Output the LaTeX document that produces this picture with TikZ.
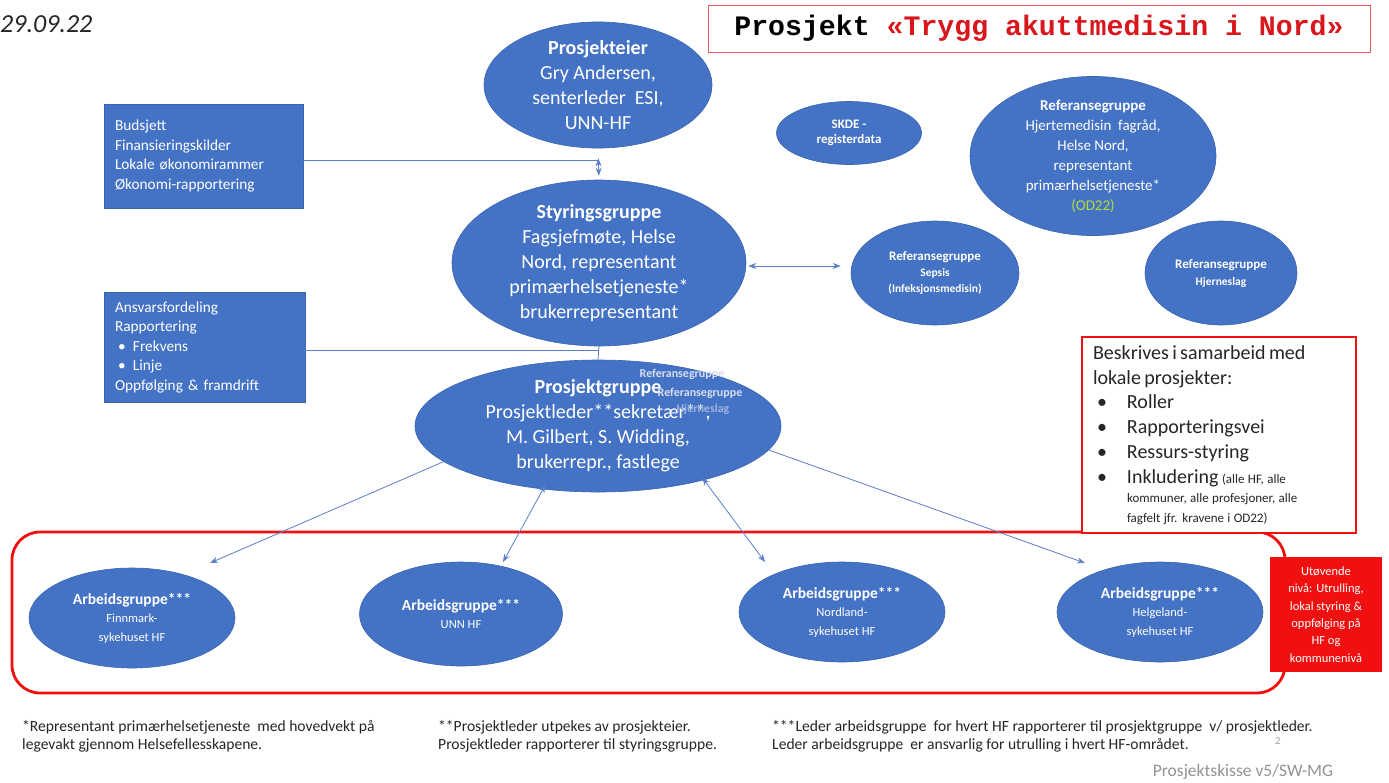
\documentclass[tikz,border=0pt]{standalone}
\usepackage{fontspec}
\setmainfont{Carlito}
\newfontfamily\monofont{Liberation Mono}
\usetikzlibrary{shapes.geometric,arrows.meta}
\definecolor{obl}{HTML}{4472C4}
\definecolor{obd}{HTML}{3A64B0}
\definecolor{lnk}{HTML}{5A7FC8}
\definecolor{odg}{HTML}{B4DC3C}
\definecolor{txg}{HTML}{262626}
\definecolor{ttlred}{HTML}{D8161C}
\definecolor{ovl}{HTML}{D6DEF2}
\definecolor{ovl2}{HTML}{9FB3E0}
\definecolor{frred}{HTML}{F01010}
\newcommand{\bul}{\hspace*{4pt}\makebox[30pt][l]{•}}
\newcommand{\abul}{\hspace*{3pt}\makebox[15pt][l]{•}}
\begin{document}
\begin{tikzpicture}[x=1pt,y=-1pt,
  blob/.style={ellipse,fill=obl,draw=obd,line width=0.6pt,inner sep=0pt,text=white,align=center},
  infobox/.style={rectangle,fill=obl,draw=obd,line width=0.8pt,text=white,align=left,inner xsep=11pt,inner ysep=0pt},
  link/.style={draw=lnk,line width=0.8pt},
  tipend/.style={-{Stealth[length=8pt,width=6pt]}},
  tipboth/.style={{Stealth[length=8pt,width=6pt]}-{Stealth[length=8pt,width=6pt]}},
  note/.style={anchor=north west,inner sep=0pt,align=left,text=txg,font=\fontsize{15.6}{18.5}\selectfont},
  ovtext/.style={inner sep=0pt,font=\bfseries\fontsize{12}{13}\selectfont},
  big/.style={font=\fontsize{20}{25}\selectfont},
  agtext/.style={font=\fontsize{12.5}{18.5}\selectfont},
]
\useasboundingbox (0,0) rectangle (1389,782);
\fill[white] (0,0) rectangle (1389,782);

% date and title
\node[anchor=west,inner sep=0pt,text=txg,font=\itshape\fontsize{26}{28}\selectfont] (date) at (0,24) {29.09.22};
\node[draw=ttlred!70,line width=1pt,minimum width=662pt,minimum height=47pt,inner sep=0pt,
      font=\monofont\bfseries\fontsize{28.2}{30}\selectfont] (title) at (1039,28.5)
      {Prosjekt \textcolor{ttlred}{«Trygg akuttmedisin i Nord»}};

% left boxes
\node[infobox,minimum width=199pt,minimum height=104pt,text width=177pt,font=\fontsize{15.3}{19.5}\selectfont] (bud) at (203.5,156)
  {Budsjett\\Finansieringskilder\\Lokale økonomirammer\\Økonomi-rapportering};
\node[infobox,minimum width=201pt,minimum height=110pt,text width=179pt,font=\fontsize{15.3}{19.5}\selectfont] (ans) at (204.5,347)
  {Ansvarsfordeling\\Rapportering\\\abul Frekvens\\\abul Linje\\Oppfølging \& framdrift};

% central ellipses
\node[blob,big,minimum width=228pt,minimum height=110pt] (pe) at (598,85)
  {\textbf{Prosjekteier}\\Gry Andersen,\\senterleder~ ESI,\\UNN-HF};
\node[blob,big,minimum width=294pt,minimum height=166pt] (sg) at (599,263)
  {\textbf{Styringsgruppe}\\Fagsjefmøte, Helse\\Nord, representant\\primærhelsetjeneste*\\brukerrepresentant};
\node[blob,big,minimum width=366pt,minimum height=132pt] (pg) at (598,426)
  {\textbf{Prosjektgruppe}\\Prosjektleder**sekretær**,\\M. Gilbert, S. Widding,\\brukerrepr., fastlege};
\node[ovtext,text=ovl] (ov1) at (682,374) {Referansegruppe};
\node[ovtext,text=ovl] (ov2) at (700,393) {Referansegruppe};
\node[ovtext,text=ovl2] (ov3) at (703,409) {Hjerneslag};

% reference groups
\node[blob,minimum width=145pt,minimum height=63pt,font=\bfseries\fontsize{13}{15.5}\selectfont] (skde) at (849,133)
  {SKDE -\\registerdata};
\node[blob,minimum width=246pt,minimum height=152pt,font=\fontsize{15}{20}\selectfont] (rhj) at (1093,156)
  {\textbf{Referansegruppe}\\Hjertemedisin~ fagråd,\\Helse Nord,\\representant\\primærhelsetjeneste*\\\textcolor{odg}{(OD22)}};
\node[blob,minimum width=168pt,minimum height=104pt,font=\bfseries\fontsize{11.5}{16}\selectfont] (sep) at (935,273)
  {{\fontsize{13}{16}\selectfont Referansegruppe}\\Sepsis\\(Infeksjonsmedisin)};
\node[blob,minimum width=152pt,minimum height=104pt,font=\bfseries\fontsize{11.5}{17}\selectfont] (rhs) at (1221,273)
  {{\fontsize{13}{16}\selectfont Referansegruppe}\\Hjerneslag};

% red frame round the working groups
\node[draw=frred,line width=2.8pt,rounded corners=28pt,minimum width=1273pt,minimum height=161pt,inner sep=0pt] (frame) at (648.5,612.5) {};

% working groups
\node[blob,agtext,minimum width=206pt,minimum height=100pt] (ag1) at (132,618)
  {{\bfseries\fontsize{15.5}{18.5}\selectfont Arbeidsgruppe***}\\Finnmark-\\sykehuset HF};
\node[blob,agtext,minimum width=203pt,minimum height=104pt] (ag2) at (461,614)
  {{\bfseries\fontsize{15.5}{18.5}\selectfont Arbeidsgruppe***}\\UNN HF};
\node[blob,agtext,minimum width=206pt,minimum height=100pt] (ag3) at (842,612)
  {{\bfseries\fontsize{15.5}{18.5}\selectfont Arbeidsgruppe***}\\Nordland-\\sykehuset HF};
\node[blob,agtext,minimum width=206pt,minimum height=100pt] (ag4) at (1160,612)
  {{\bfseries\fontsize{15.5}{18.5}\selectfont Arbeidsgruppe***}\\Helgeland-\\sykehuset HF};

% description box
\node[draw=frred,line width=2.8pt,fill=white,minimum width=274pt,minimum height=196pt,inner xsep=11pt,inner ysep=0pt,
      text width=252pt,align=left,text=txg] (besk) at (1219,435)
  {\parindent=0pt\fontsize{20}{24.7}\selectfont
   Beskrives i samarbeid med\par
   lokale prosjekter:\par
   \bul Roller\par
   \bul Rapporteringsvei\par
   \bul Ressurs-styring\par
   \bul Inkludering {\fontsize{13}{14}\selectfont (alle HF, alle}\par
   \fontsize{13}{19.5}\selectfont
   \hspace*{34pt}kommuner, alle profesjoner, alle\par
   \hspace*{34pt}fagfelt jfr. kravene i OD22)\par};

% executive level box
\node[fill=frred,minimum width=112pt,minimum height=115pt,inner sep=0pt,text=white,align=center,
      font=\fontsize{12.5}{17.3}\selectfont] (utov) at (1326,614.5)
  {Utøvende\\nivå: Utrulling,\\lokal styring \&\\oppfølging på\\HF og\\kommunenivå};

% connectors
\draw[link,tipboth,shorten <=10pt,shorten >=4pt] (pe.south) -- (sg.north);
\draw[link] ([yshift=-4pt]bud.east) -- ([yshift=-4pt]bud.east -| pe.south);
\draw[link] ([yshift=-3pt]ans.east) -- ([yshift=-3pt]ans.east -| sg.south);
\draw[link] (sg.south) -- (pg.north);
\draw[link,tipboth,shorten >=10pt,shorten <=2pt] ([yshift=-3pt]sg.east) -- ([yshift=7pt]sep.west);
\coordinate (e1) at (210,563);
\coordinate (e2) at (503,562);
\coordinate (e3) at (765,562);
\coordinate (e4) at (1085,563);
\draw[link,tipend] (pg.193) -- (e1);
\draw[link,tipboth,shorten <=-5pt] (pg.229) -- (e2);
\draw[link,tipboth,shorten <=-3pt] (pg.333) -- (e3);
\draw[link,tipend] (pg.352) -- (e4);

% footnotes
\node[note] (fn1) at (22,720) {*Representant primærhelsetjeneste~ med hovedvekt på\\legevakt gjennom Helsefellesskapene.};
\node[note] (fn2) at (438,720) {**Prosjektleder utpekes av prosjekteier.\\Prosjektleder rapporterer til styringsgruppe.};
\node[note] (fn3) at (772,720) {***Leder arbeidsgruppe~ for hvert HF rapporterer til prosjektgruppe~ v/ prosjektleder.\\Leder arbeidsgruppe~ er ansvarlig for utrulling i hvert HF-området.};
\node[inner sep=0pt,text=gray!70,font=\fontsize{11}{12}\selectfont] (pgnum) at (1278,741) {2};
\node[inner sep=0pt,text=gray!85,font=\fontsize{17.5}{18}\selectfont] (ver) at (1243,772) {Prosjektskisse v5/SW-MG};
\end{tikzpicture}
\end{document}
